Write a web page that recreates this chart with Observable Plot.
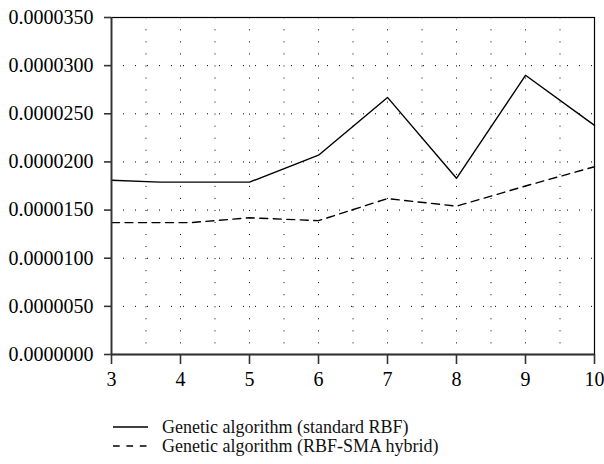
<!DOCTYPE html>
<html>
<head>
<meta charset="utf-8">
<script src="https://cdn.jsdelivr.net/npm/d3@7"></script>
<script src="https://cdn.jsdelivr.net/npm/@observablehq/plot@0.6"></script>
<style>
  body { margin: 0; background: #fff; }
  #legend { position: relative; height: 69px; width: 604px; font-family: "Liberation Serif", serif; font-size: 18px; color: #111; }
  .row { position: absolute; left: 113px; height: 20px; display: flex; align-items: center; }
  .row svg { width: 36px; height: 4px; margin-right: 13px; overflow: visible; }
</style>
</head>
<body>
<div id="chart"></div>
<div id="legend"></div>
<script>
const seriesNames = ["Genetic algorithm (standard RBF)", "Genetic algorithm (RBF-SMA hybrid)"];
const xStandard = [3, 3.7, 5, 6, 7, 8, 9, 10];
const yStandard = [0.0000181, 0.0000179, 0.0000179, 0.0000207, 0.0000267, 0.0000183, 0.0000290, 0.0000238];
const xHybrid = [3, 4.15, 5, 6, 7, 8, 9, 10];
const yHybrid = [0.0000137, 0.0000137, 0.0000142, 0.0000139, 0.0000162, 0.0000154, 0.0000175, 0.0000195];
const xTicks = [3, 4, 5, 6, 7, 8, 9, 10];
const yTicks = [0, 0.000005, 0.00001, 0.000015, 0.00002, 0.000025, 0.00003, 0.000035];
const xGridVals = [3.5, 4, 4.5, 5, 5.5, 6, 6.5, 7, 7.5, 8, 8.5, 9, 9.5];
const yGridVals = [0.000005, 0.00001, 0.000015, 0.00002, 0.000025, 0.00003];

const standard = xStandard.map((x, i) => ({x, y: yStandard[i]}));
const hybrid = xHybrid.map((x, i) => ({x, y: yHybrid[i]}));
const dashes = ["none", "8,5.5"];

const chart = Plot.plot({
  width: 604,
  height: 395,
  marginLeft: 111,
  marginRight: 10,
  marginTop: 17,
  marginBottom: 41,
  style: {fontFamily: "'Liberation Serif', serif", fontSize: "20px", background: "#fff", color: "#000"},
  x: {domain: [3, 10]},
  y: {domain: [0, 0.000035]},
  marks: [
    Plot.gridX(xGridVals, {stroke: "#000", strokeOpacity: 1, strokeDasharray: "1,11.04", strokeDashoffset: -0.3}),
    Plot.gridY(yGridVals, {stroke: "#000", strokeOpacity: 1, strokeDasharray: "1,11"}),
    Plot.line(standard, {x: "x", y: "y", stroke: "#000", strokeWidth: 1.4}),
    Plot.line(hybrid, {x: "x", y: "y", stroke: "#000", strokeWidth: 1.4, strokeDasharray: dashes[1]}),
    Plot.frame({stroke: "#000", strokeWidth: 1.2}),
    Plot.ruleX([3], {stroke: "#333", strokeWidth: 1.8}),
    Plot.ruleY([0], {stroke: "#333", strokeWidth: 1.8}),
    Plot.axisX(xTicks, {tickSize: 10, tickPadding: 7, tickFormat: d => String(d), stroke: "#333", strokeWidth: 1.6, label: null}),
    Plot.axisY(yTicks, {tickSize: 7, tickPadding: 11, tickFormat: d => d.toFixed(7), stroke: "#333", strokeWidth: 1.6, label: null})
  ]
});
document.getElementById("chart").append(chart);

const legend = document.getElementById("legend");
seriesNames.forEach((name, i) => {
  const row = document.createElement("div");
  row.className = "row";
  row.style.top = (22 + i * 19) + "px";
  row.innerHTML = `<svg viewBox="0 0 36 4"><line x1="0" y1="2" x2="35" y2="2" stroke="#000" stroke-width="1.3" ${i === 1 ? 'stroke-dasharray="6.7,6.7"' : ''}/></svg><span>${name}</span>`;
  legend.append(row);
});
</script>
</body>
</html>
